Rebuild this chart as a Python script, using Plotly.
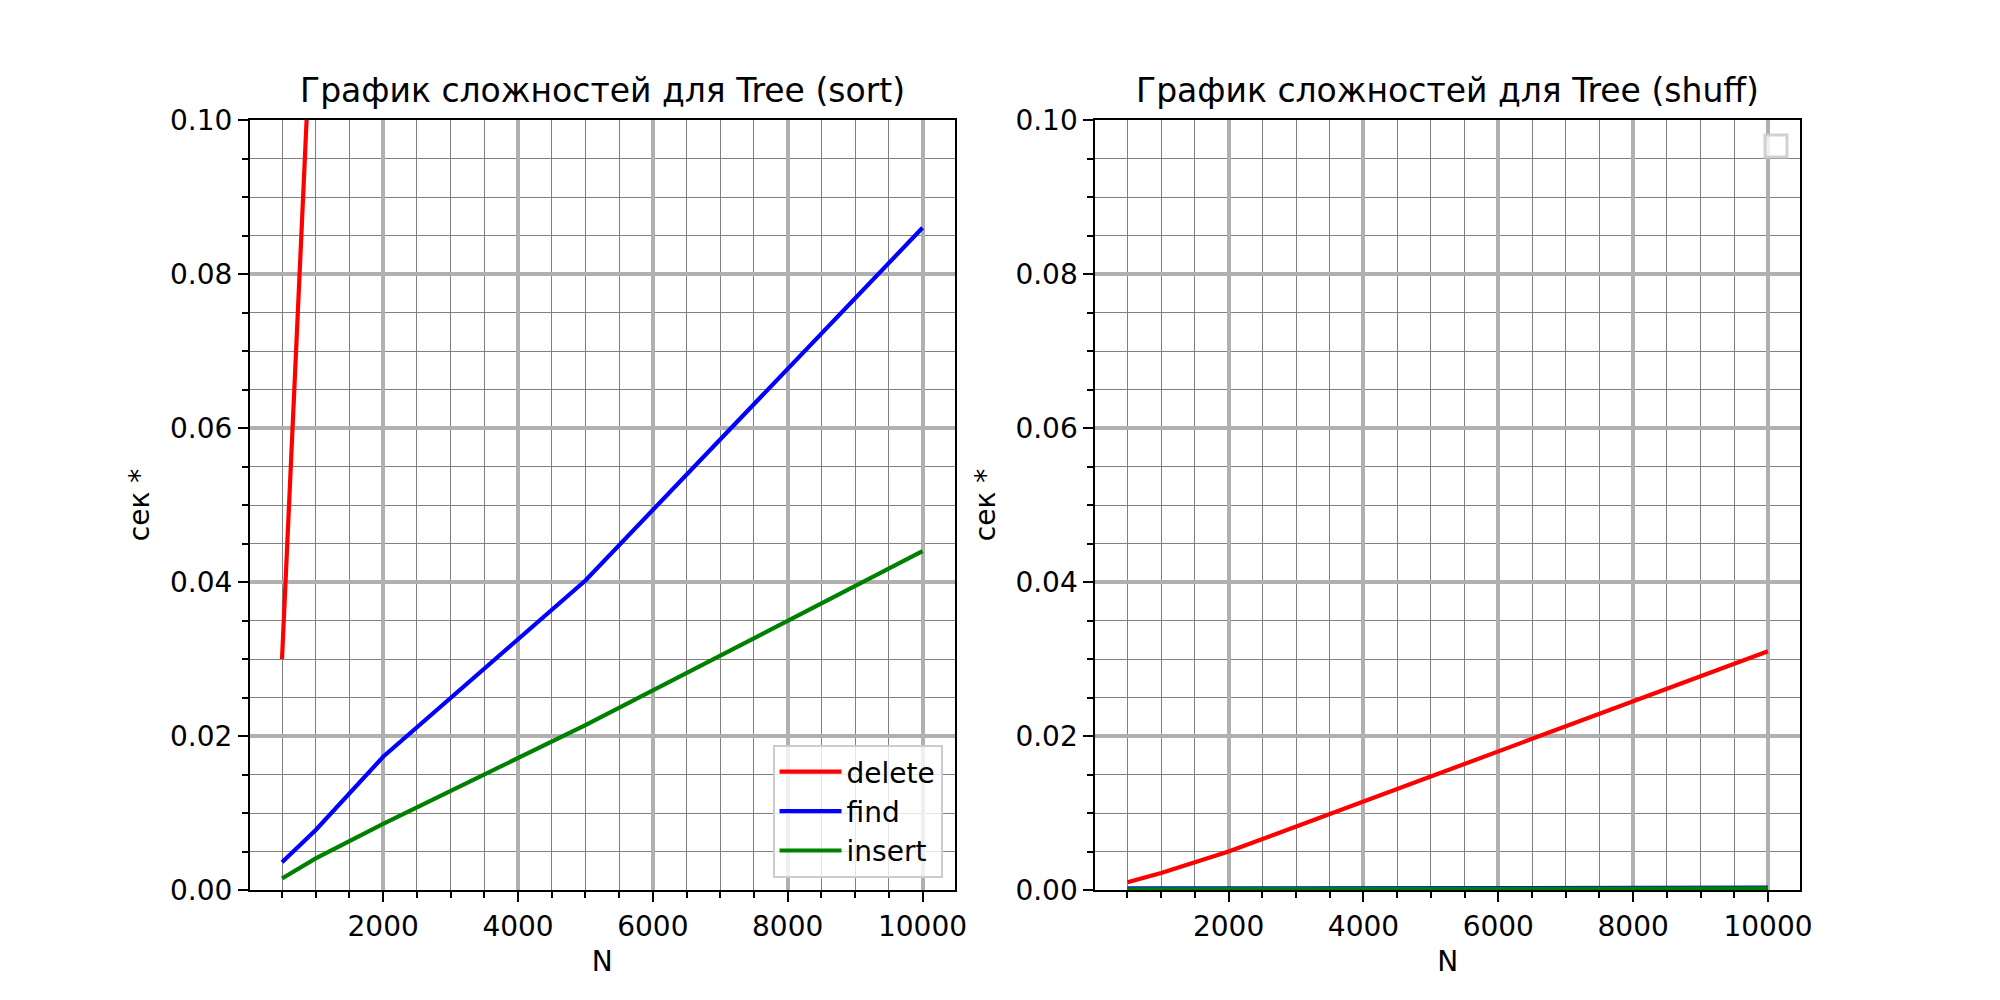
import plotly.graph_objects as go

# ---- data ----
N = [500, 1000, 2000, 5000, 10000]

sort_delete = [0.030, 0.126, 0.49, 3.05, 12.2]
sort_find = [0.0036, 0.0078, 0.0173, 0.0402, 0.0860]
sort_insert = [0.0015, 0.0041, 0.0086, 0.0214, 0.0440]

shuff_delete = [0.0010, 0.0022, 0.0050, 0.0147, 0.0310]
shuff_find = [0.0002, 0.0002, 0.0003, 0.0003, 0.0003]
shuff_insert = [0.0001, 0.0001, 0.0001, 0.0002, 0.0002]

series_names = ["delete", "find", "insert"]
series_colors = ["#ff0000", "#0000ff", "#008000"]

x_tickvals = [2000, 4000, 6000, 8000, 10000]
x_ticktext = ["2000", "4000", "6000", "8000", "10000"]
y_tickvals = [0.0, 0.02, 0.04, 0.06, 0.08, 0.10]
y_ticktext = ["0.00", "0.02", "0.04", "0.06", "0.08", "0.10"]

titles = ["График сложностей для Tree (sort)", "График сложностей для Tree (shuff)"]
x_label = "N"
y_label = "сек *"

FONT = "DejaVu Sans"
W, H = 2000, 1000

fig = go.Figure()

left_sets = [sort_delete, sort_find, sort_insert]
right_sets = [shuff_delete, shuff_find, shuff_insert]

for name, color, ys in zip(series_names, series_colors, left_sets):
    fig.add_trace(go.Scatter(x=N, y=ys, mode="lines", name=name,
                             line=dict(color=color, width=4.2),
                             xaxis="x", yaxis="y", showlegend=True))
for name, color, ys in zip(series_names, series_colors, right_sets):
    fig.add_trace(go.Scatter(x=N, y=ys, mode="lines", name=name,
                             line=dict(color=color, width=4.2),
                             xaxis="x2", yaxis="y2", showlegend=False))

left_dom = [0.125, 0.125 + 0.775 / 2.2]
right_dom = [0.9 - 0.775 / 2.2, 0.9]
y_dom = [0.11, 0.88]


def xaxis_cfg(domain, anchor):
    return dict(
        domain=domain, anchor=anchor, range=[25, 10475],
        tickmode="array", tickvals=x_tickvals, ticktext=x_ticktext,
        ticks="outside", ticklen=10, tickwidth=2.2, tickcolor="black",
        showline=True, mirror=True, linecolor="black", linewidth=2.2,
        showgrid=True, gridcolor="#b0b0b0", gridwidth=3.5, zeroline=False,
        tickfont=dict(family=FONT, size=28, color="black"),
        title=dict(text=x_label, font=dict(family=FONT, size=28, color="black"), standoff=10),
        minor=dict(dtick=500, tick0=0, ticks="outside", ticklen=6, tickwidth=1.7,
                   tickcolor="black", showgrid=True, gridcolor="#808080", gridwidth=1.4),
        automargin=False,
    )


def yaxis_cfg(anchor):
    return dict(
        domain=y_dom, anchor=anchor, range=[0, 0.1],
        tickmode="array", tickvals=y_tickvals, ticktext=y_ticktext,
        ticks="outside", ticklen=10, tickwidth=2.2, tickcolor="black",
        showline=True, mirror=True, linecolor="black", linewidth=2.2,
        showgrid=True, gridcolor="#b0b0b0", gridwidth=3.5, zeroline=False,
        tickfont=dict(family=FONT, size=28, color="black"),
        title=dict(text=y_label, font=dict(family=FONT, size=28, color="black"), standoff=12),
        minor=dict(dtick=0.005, tick0=0, ticks="outside", ticklen=6, tickwidth=1.7,
                   tickcolor="black", showgrid=True, gridcolor="#808080", gridwidth=1.4),
        automargin=False,
    )


annotations = []
for dom, t in zip([left_dom, right_dom], titles):
    annotations.append(dict(
        text=t, xref="paper", yref="paper", x=(dom[0] + dom[1]) / 2, y=y_dom[1],
        xanchor="center", yanchor="bottom", yshift=8, showarrow=False,
        font=dict(family=FONT, size=33, color="black"),
    ))

# empty legend frame drawn by the original in the right panel
shapes = [dict(
    type="rect", xref="paper", yref="paper",
    x0=0.8825, x1=0.8935, y0=0.843, y1=0.865,
    line=dict(color="rgba(204,204,204,0.9)", width=3),
    fillcolor="rgba(255,255,255,0.8)", layer="above",
)]

fig.update_layout(
    width=W, height=H,
    margin=dict(l=0, r=0, t=0, b=0),
    paper_bgcolor="white", plot_bgcolor="white",
    font=dict(family=FONT, size=28, color="black"),
    xaxis=xaxis_cfg(left_dom, "y"),
    yaxis=yaxis_cfg("x"),
    xaxis2=xaxis_cfg(right_dom, "y2"),
    yaxis2=yaxis_cfg("x2"),
    annotations=annotations,
    shapes=shapes,
    legend=dict(
        x=left_dom[1] - 0.006, y=y_dom[0] + 0.012, xanchor="right", yanchor="bottom",
        bgcolor="rgba(255,255,255,0.8)", bordercolor="#cccccc", borderwidth=2,
        font=dict(family=FONT, size=28, color="black"),
        tracegroupgap=0, itemwidth=62,
    ),
    showlegend=True,
)

fig.write_html("out.html", config={"displayModeBar": False},
               post_script="document.body.style.margin='0px';")
